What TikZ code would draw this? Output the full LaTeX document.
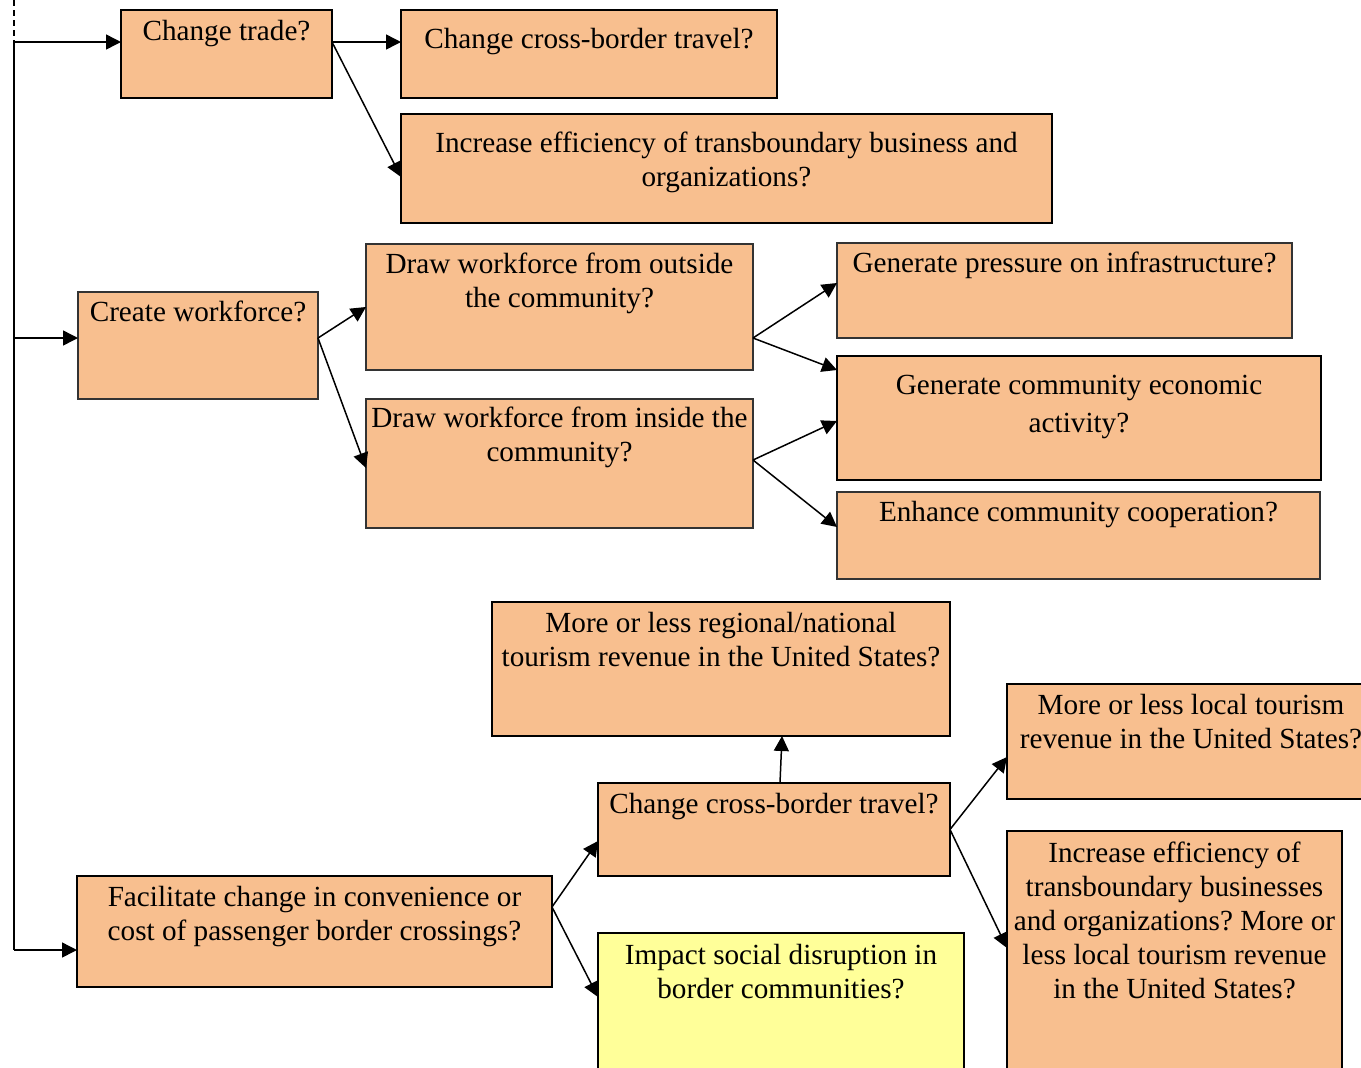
\documentclass[tikz,border=0pt]{standalone}
\usepackage{fontspec}
\setmainfont{Liberation Serif}
\frenchspacing
\usetikzlibrary{arrows.meta}
\definecolor{boxorange}{RGB}{248,191,143}
\definecolor{boxyellow}{RGB}{255,255,153}
\tikzset{
  qbox/.style={draw=black, fill=boxorange, line width=0.8pt, anchor=north west,
    inner sep=0pt, outer sep=0pt, rectangle},
  heavybox/.style={line width=1.1pt},
  lightbox/.style={line width=0.7pt, draw=black!80},
  yellowbox/.style={fill=boxyellow},
  arr/.style={-{Triangle[length=7.5pt,width=7.5pt]}, line width=0.75pt},
  trunk/.style={line width=0.75pt},
}
% #1 style, #2 name, #3 x1, #4 y1, #5 x2, #6 y2 (pixels), #7 first baseline (px below top), #8 text
\newcommand\qb[8][]{%
  \node[qbox,#1] (#2) at (#3,#4) {\parbox[c][\dimexpr 1pt*(#6-#4)/2\relax][t]{\dimexpr 1pt*(#5-#3)/2\relax}{%
    \centering\fontsize{14.6}{17}\selectfont\rule{0pt}{\dimexpr 1pt*#7/2\relax}#8}};%
}
\begin{document}
\begin{tikzpicture}[x=0.5pt, y=-0.5pt]
\useasboundingbox (0,0) rectangle (1361,1067);
\clip (0,0) rectangle (1361,1067);

% boxes
\qb[heavybox]{b1}{121}{10}{332}{98}{30}{Change trade?}
\qb[heavybox]{b2}{401}{10}{777}{98}{38}{Change cross-border travel?}
\qb[heavybox]{b3}{401}{114}{1052}{223}{38}{Increase efficiency of transboundary business and\\organizations?}
\qb[lightbox]{b4}{78}{292}{318}{399}{29}{Create workforce?}
\qb[lightbox]{b5}{366}{244}{753}{370}{29}{Draw workforce from outside\\the community?}
\qb[lightbox]{b6}{366}{399}{753}{528}{28}{Draw workforce from inside the\\community?}
\qb[lightbox]{b7}{837}{243}{1292}{338}{29}{Generate pressure on infrastructure?}
\qb[heavybox]{b8}{837}{356}{1321}{480}{38}{Generate community economic\\[2pt]activity?}
\qb[lightbox]{b9}{837}{492}{1320}{579}{29}{Enhance community cooperation?}
\qb[heavybox]{b10}{492}{602}{950}{736}{30}{More or less regional/national\\tourism revenue in the United States?}
\qb[heavybox]{b11}{1007}{684}{1375}{799}{30}{More or less local tourism\\revenue in the United States?}
\qb[heavybox]{b12}{598}{783}{950}{876}{30}{Change cross-border travel?}
\qb[heavybox]{b13}{77}{876}{552}{987}{30}{Facilitate change in convenience or\\cost of passenger border crossings?}
\qb[heavybox,yellowbox]{b14}{598}{933}{964}{1090}{31}{Impact social disruption in\\border communities?}
\qb[heavybox]{b15}{1007}{831}{1342}{1090}{31}{Increase efficiency of\\transboundary businesses\\and organizations? More or\\less local tourism revenue\\in the United States?}

% trunk on the left
\coordinate (top) at (14,0);
\coordinate (j1) at (14,42);
\coordinate (j2) at (14,338);
\coordinate (j3) at (14,950);
\draw[trunk, dash pattern=on 3pt off 2pt] (top) -- (j1);
\draw[trunk] (j1) -- (j3);
\draw[arr] (j1) -- (j1 -| b1.west);
\draw[arr] (j2) -- (j2 -| b4.west);
\draw[arr] (j3) -- (j3 -| b13.west);

% connectors
\draw[arr] ([yshift=6pt]b1.east) -- ([yshift=6pt]b2.west);
\draw[arr] ([yshift=6pt]b1.east) -- ([yshift=-4.25pt]b3.west);
\draw[arr] ([yshift=3.75pt]b4.east) -- (b5.west);
\draw[arr] ([yshift=3.75pt]b4.east) -- ([yshift=-2.25pt]b6.west);
\draw[arr] ([yshift=-15.5pt]b5.east) -- ([yshift=3.75pt]b7.west);
\draw[arr] ([yshift=-15.5pt]b5.east) -- ([yshift=24pt]b8.west);
\draw[arr] ([yshift=1.75pt]b6.east) -- ([yshift=-1.5pt]b8.west);
\draw[arr] ([yshift=1.75pt]b6.east) -- ([yshift=4.25pt]b9.west);
\draw[arr] ([yshift=12.25pt]b13.east) -- ([yshift=-5.75pt]b12.west);
\draw[arr] ([yshift=12.25pt]b13.east) -- ([yshift=-32pt]b14.north west);
\draw[arr] ([xshift=3pt]b12.north) -- ([xshift=30.5pt]b10.south);
\draw[arr] (b12.east) -- ([yshift=-36.5pt]b11.north west);
\draw[arr] (b12.east) -- ([yshift=-58.5pt]b15.north west);
\end{tikzpicture}
\end{document}
